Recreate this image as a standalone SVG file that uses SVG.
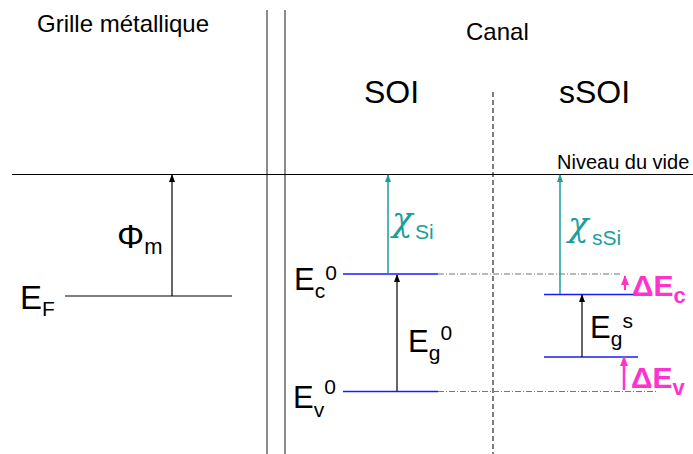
<svg xmlns="http://www.w3.org/2000/svg" width="693" height="454" viewBox="0 0 693 454">
<style>
text{font-family:"Liberation Sans",Arial,sans-serif;fill:#000}
.big{font-size:31px}
.sub{font-size:21px}
.sup{font-size:21px}
.chi{font-family:"DejaVu Serif","Liberation Serif",serif;font-style:italic;font-size:34px;fill:#1a9e9e}
.teal{fill:#1a9e9e;font-size:21px}
.mag{fill:#ff33cc;font-weight:bold}
.ln{stroke:#000;stroke-width:1.2;fill:none}
.sep{stroke:#666;stroke-width:1.5}
.band{stroke:#1a1aff;stroke-width:1.5}
.dd{stroke:#777;stroke-width:1;stroke-dasharray:6 2 1 2}
</style>
<defs>
<marker id="ab" markerWidth="8" markerHeight="8" refX="7" refY="4" orient="auto" markerUnits="userSpaceOnUse" viewBox="0 0 8 8"><path d="M8,4 L0,1 L0,7 Z" fill="#000"/></marker>
<marker id="at" markerWidth="8" markerHeight="8" refX="7" refY="4" orient="auto" markerUnits="userSpaceOnUse" viewBox="0 0 8 8"><path d="M8,4 L0,1 L0,7 Z" fill="#1a9e9e"/></marker>
<marker id="am" markerWidth="10" markerHeight="10" refX="9" refY="5" orient="auto" markerUnits="userSpaceOnUse" viewBox="0 0 10 10"><path d="M10,5 L0,1 L0,9 Z" fill="#ff33cc"/></marker>
</defs>

<g id="frame">
<line class="sep" x1="267" y1="10" x2="267" y2="454"/>
<line class="sep" x1="285" y1="10" x2="285" y2="454"/>
<line x1="493" y1="92" x2="493" y2="454" stroke="#555" stroke-width="1.5" stroke-dasharray="5 3"/>
<line class="ln" x1="12" y1="174.5" x2="693" y2="174.5"/>
</g>

<g id="titles">
<text x="37" y="32" style="font-size:24px">Grille métallique</text>
<text x="466" y="40" style="font-size:24px">Canal</text>
<text x="364" y="103" style="font-size:32px">SOI</text>
<text x="559" y="103" style="font-size:32px">sSOI</text>
<text x="557" y="169" style="font-size:20px">Niveau du vide</text>
</g>

<g id="metal">
<line class="ln" x1="65" y1="296" x2="232" y2="296"/>
<text x="20" y="309" style="font-size:33px">E<tspan style="font-size:21px" dy="7">F</tspan></text>
<text x="117" y="248" style="font-size:34px">Φ<tspan style="font-size:22px" dy="6">m</tspan></text>
</g>

<g id="soi">
<line class="band" x1="343" y1="274" x2="438" y2="274"/>
<line class="band" x1="343" y1="391.5" x2="438" y2="391.5"/>
<text x="294" y="290" class="big">E<tspan class="sub" dy="8">c</tspan><tspan class="sup" dy="-18">0</tspan></text>
<text x="293" y="408" class="big">E<tspan class="sub" dy="9">v</tspan><tspan class="sup" dy="-23">0</tspan></text>
<text x="408" y="352" class="big">E<tspan class="sub" dy="8">g</tspan><tspan class="sup" dy="-20">0</tspan></text>
<text x="392" y="231" class="chi">χ</text>
<text x="415" y="239" class="teal">Si</text>
</g>

<g id="ssoi">
<line class="band" x1="544" y1="294.5" x2="638" y2="294.5"/>
<line class="band" x1="544" y1="357" x2="638" y2="357"/>
<text x="590" y="338" class="big">E<tspan class="sub" dy="8">g</tspan><tspan class="sup" dy="-18">s</tspan></text>
<text x="568" y="236" class="chi">χ</text>
<text x="592" y="245" class="teal">sSi</text>
<text x="632" y="296" class="mag" style="font-size:30px">ΔE<tspan dy="7" style="font-size:22px">c</tspan></text>
<text x="631" y="388" class="mag" style="font-size:30px">ΔE<tspan dy="7" style="font-size:22px">v</tspan></text>
</g>

<g id="connectors">
<line class="dd" x1="438" y1="274" x2="620" y2="274"/>
<line class="dd" x1="438" y1="391.5" x2="657" y2="391.5"/>
<line class="ln" x1="172" y1="296" x2="172" y2="175" marker-end="url(#ab)"/>
<line x1="388" y1="274" x2="388" y2="175" stroke="#1a9e9e" stroke-width="1.5" marker-end="url(#at)"/>
<line class="ln" x1="397" y1="391" x2="397" y2="275" marker-end="url(#ab)"/>
<line x1="560" y1="294" x2="560" y2="175" stroke="#1a9e9e" stroke-width="1.5" marker-end="url(#at)"/>
<line class="ln" x1="582" y1="357" x2="582" y2="295" marker-end="url(#ab)"/>
<line x1="625" y1="290" x2="625" y2="276" stroke="#ff33cc" stroke-width="2" marker-end="url(#am)"/>
<line x1="624" y1="390" x2="624" y2="357" stroke="#ff33cc" stroke-width="2.5" marker-end="url(#am)"/>
</g>
</svg>
